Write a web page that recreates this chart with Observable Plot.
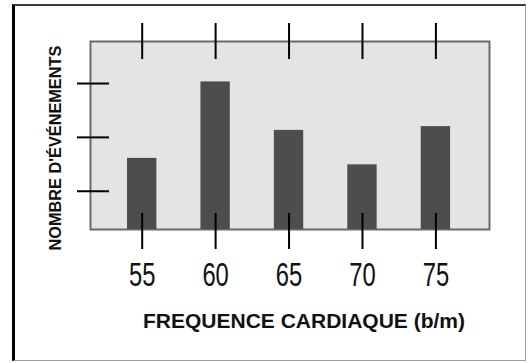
<!DOCTYPE html>
<html>
<head>
<meta charset="utf-8">
<script src="https://cdn.jsdelivr.net/npm/d3@7"></script>
<script src="https://cdn.jsdelivr.net/npm/@observablehq/plot@0.6"></script>
<style>
  body { margin: 0; background: #fff; }
  #chart { position: relative; width: 528px; height: 363px; }
  #chart svg { display: block; }
  /* outer box around the figure: heavy left edge, light right/bottom edges */
  #box {
    position: absolute; left: 12px; top: 4px; width: 510px; height: 354px;
    border-left: 3px solid #000; border-top: 2px solid #3a3a3a;
    border-right: 1px solid #a0a0a0; border-bottom: 1px solid #a0a0a0;
    pointer-events: none;
  }
</style>
</head>
<body>
<div id="chart"><div id="box"></div></div>
<script>
// Heart rate (beats per minute) and number of events per class
const heartRates = [55, 60, 65, 70, 75];
const eventCounts = [1.61, 3.03, 2.13, 1.49, 2.2];
const yTicks = [1, 2, 3];
const xLabel = "FREQUENCE CARDIAQUE (b/m)";
const yLabel = "NOMBRE D'ÉVÉNEMENTS";
const yMin = 0.29, yMax = 3.78;

const data = heartRates.map((hr, i) => ({hr, n: eventCounts[i]}));

const plot = Plot.plot({
  width: 528,
  height: 363,
  marginLeft: 90,
  marginRight: 39,
  marginTop: 41,
  marginBottom: 134,
  x: {domain: [51.48, 78.65]},
  y: {domain: [yMin, yMax]},
  style: {fontFamily: "'Liberation Sans', Arial, sans-serif", color: "#111", background: "transparent"},
  marks: [
    Plot.frame({fill: "#e4e4e4", stroke: "#6a6a6a", strokeWidth: 2}),
    Plot.rectY(data, {x1: d => d.hr - 1, x2: d => d.hr + 1, y1: () => yMin, y2: "n", fill: "#4d4d4d"}),
    // tick marks crossing the top edge
    Plot.axisX(heartRates, {anchor: "top", tickSize: 36, dy: 17, strokeWidth: 2, stroke: "#000", tickFormat: () => "", label: null}),
    // tick marks crossing the bottom edge
    Plot.axisX(heartRates, {anchor: "bottom", tickSize: 36, dy: -16, strokeWidth: 2, stroke: "#000", tickFormat: () => "", label: null}),
    // heart rate labels (condensed below)
    Plot.axisX(heartRates, {anchor: "bottom", tickSize: 0, tickPadding: 33, fontSize: 33, fill: "#111", label: null}),
    // unlabeled ticks crossing the left edge
    Plot.axisY(yTicks, {anchor: "left", tickSize: 32, dx: 19, strokeWidth: 2, stroke: "#000", tickFormat: () => "", label: null}),
    Plot.text([xLabel], {frameAnchor: "bottom", lineAnchor: "middle", dx: 14, dy: 92, fontSize: 21, fontWeight: "bold", fill: "#111"}),
    Plot.text([yLabel], {frameAnchor: "left", textAnchor: "middle", rotate: -90, dx: -34.5, dy: 12.6, fontSize: 16.3, fontWeight: "bold", fill: "#111"})
  ]
});

document.getElementById("chart").prepend(plot);

// narrow the heart rate numerals horizontally, keeping each centred on its tick
const labels = heartRates.map(String);
d3.select(plot).selectAll("text").each(function () {
  if (!labels.includes(this.textContent)) return;
  const b = this.getBBox();
  const cx = b.x + b.width / 2;
  const tr = this.getAttribute("transform") || "";
  this.setAttribute("transform", `${tr} translate(${cx},0) scale(0.72,1) translate(${-cx},0)`);
});
</script>
</body>
</html>
